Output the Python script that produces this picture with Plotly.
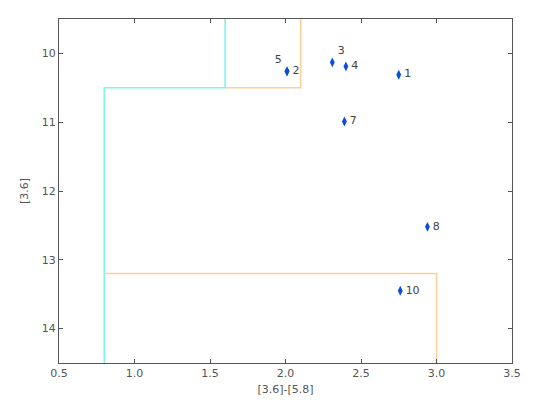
import plotly.graph_objects as go

# Source data
labels = ["1", "2", "3", "4", "5", "7", "8", "10"]
color_x = [2.75, 2.01, 2.31, 2.40, 2.01, 2.39, 2.94, 2.76]
mag_y = [10.31, 10.26, 10.13, 10.19, 10.26, 10.99, 12.52, 13.45]

# Selection boundaries
cyan_x = [0.8, 0.8, 1.6, 1.6]
cyan_y = [14.5, 10.5, 10.5, 9.5]
orange_upper_x = [2.1, 2.1, 1.6]
orange_upper_y = [9.5, 10.5, 10.5]
orange_lower_x = [0.8, 3.0, 3.0]
orange_lower_y = [13.2, 13.2, 14.5]

x_ticks = [0.5, 1.0, 1.5, 2.0, 2.5, 3.0, 3.5]
y_ticks = [10, 11, 12, 13, 14]

label_pos = {"5": "top left", "3": "top right"}
positions = [label_pos.get(l, "middle right") for l in labels]

fig = go.Figure()
fig.add_trace(go.Scatter(x=cyan_x, y=cyan_y, mode="lines",
                         line=dict(color="#7ff5ec", width=1.6), showlegend=False))
fig.add_trace(go.Scatter(x=orange_upper_x, y=orange_upper_y, mode="lines",
                         line=dict(color="#ffcf99", width=1.6), showlegend=False))
fig.add_trace(go.Scatter(x=orange_lower_x, y=orange_lower_y, mode="lines",
                         line=dict(color="#ffcf99", width=1.6), showlegend=False))
fig.add_trace(go.Scatter(x=color_x, y=mag_y, mode="markers+text", text=labels,
                         textposition=positions,
                         textfont=dict(family="DejaVu Sans", size=11, color="#444444"),
                         marker=dict(symbol="diamond-tall", size=7, color="#0a4fd6"),
                         showlegend=False))

axis_common = dict(showgrid=False, zeroline=False, showline=True, linecolor="#555555",
                   linewidth=1.2, mirror="ticks", ticks="inside", ticklen=4,
                   tickcolor="#555555",
                   tickfont=dict(family="DejaVu Sans", size=11, color="#555555"))

fig.update_layout(
    width=538, height=414,
    margin=dict(l=51, r=34, t=11, b=59),
    plot_bgcolor="white", paper_bgcolor="white",
    xaxis=dict(range=[0.5, 3.5], tickvals=x_ticks, tickformat=".1f",
               title=dict(text="[3.6]-[5.8]", standoff=6,
                          font=dict(family="DejaVu Sans", size=11, color="#555555")),
               **axis_common),
    yaxis=dict(range=[14.5, 9.5], tickvals=y_ticks,
               title=dict(text="[3.6]", standoff=10,
                          font=dict(family="DejaVu Sans", size=11, color="#555555")),
               **axis_common),
)

fig.write_html("out.html")
